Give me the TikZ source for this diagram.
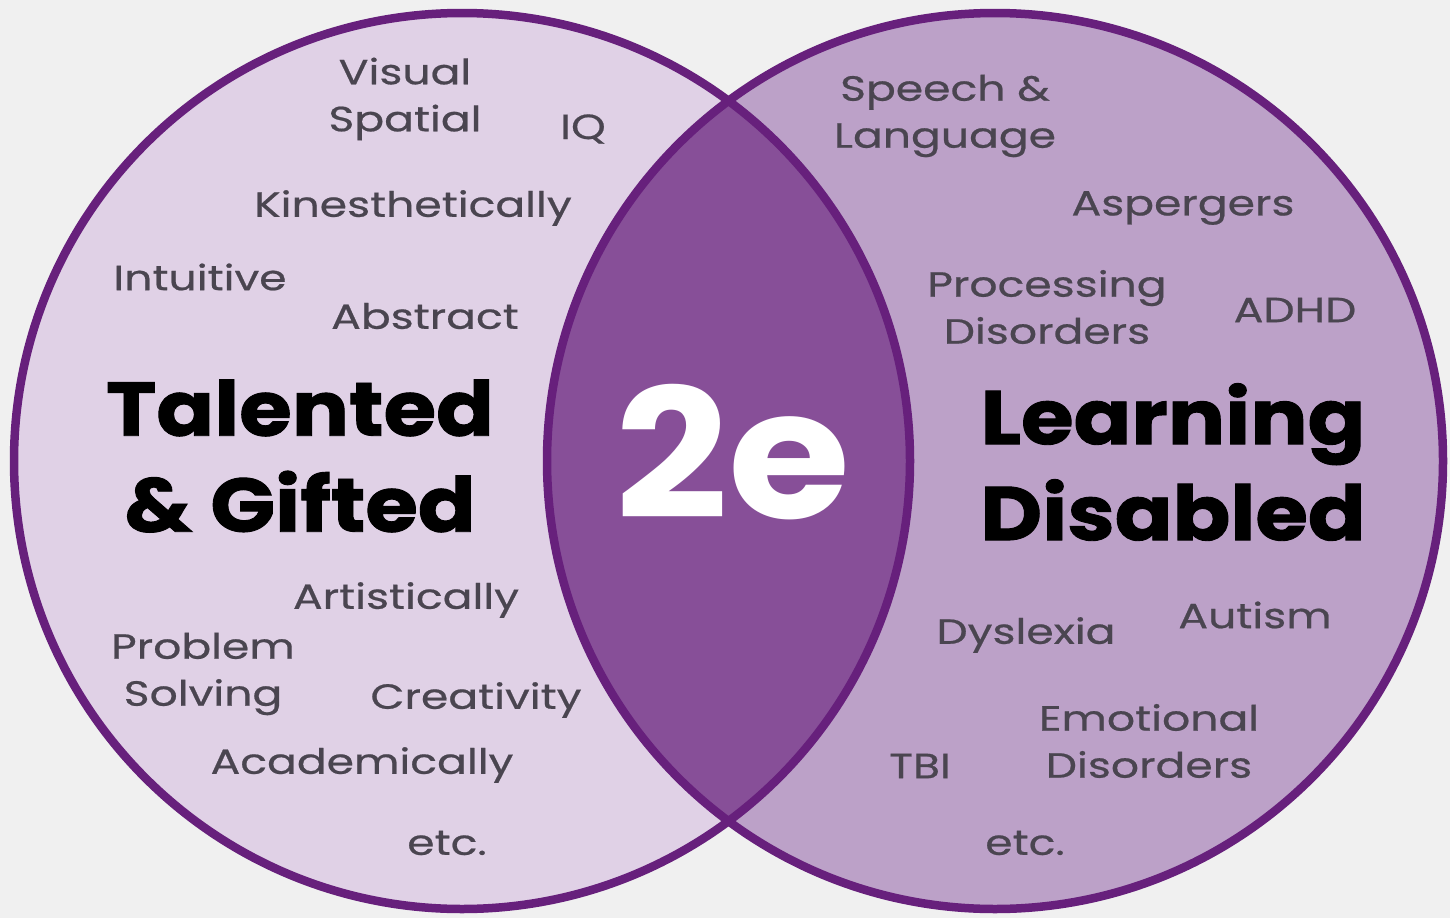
\documentclass[tikz,border=0pt]{standalone}
\usepackage{fontspec}
\setmainfont{Poppins}
\newfontfamily\itemfont[FakeStretch=1.26, FakeBold=0.6]{Poppins}
\newfontfamily\titlefont[FakeStretch=1.12, FakeBold=1.2]{Poppins}
\newfontfamily\lensfont[FakeStretch=1.1]{Poppins}
\definecolor{bgcol}{HTML}{F0F0F0}
\definecolor{leftfill}{HTML}{E0D1E6}
\definecolor{rightfill}{HTML}{BCA1C8}
\definecolor{lensfill}{HTML}{874F98}
\definecolor{ringcol}{HTML}{67207C}
\definecolor{itemcol}{HTML}{4A4550}
\tikzset{
  item/.style={text=itemcol, align=center, inner sep=0pt,
    font=\itemfont\fontsize{35}{47}\selectfont},
  title/.style={text=black, align=center, inner sep=0pt,
    font=\titlefont\fontsize{76}{96}\selectfont\bfseries},
  ring/.style={draw=ringcol, line width=8.5pt},
}
\begin{document}
\begin{tikzpicture}[x=1pt,y=-1pt]
  % canvas
  \fill[bgcol] (0,0) rectangle (1450,918);
  \useasboundingbox (0,0) rectangle (1450,918);

  % the two sets and their overlap
  \coordinate (cl) at (462,461);
  \coordinate (cr) at (995,461);
  \fill[leftfill] (cl) circle (448);
  \fill[rightfill] (cr) circle (448);
  \begin{scope}
    \clip (cl) circle (448);
    \fill[lensfill] (cr) circle (448);
  \end{scope}
  \draw[ring] (cl) circle (448);
  \draw[ring] (cr) circle (448);

  % overlap label
  \node[text=white, inner sep=0pt, font=\lensfont\fontsize{180}{180}\selectfont\bfseries]
    (twoe) at (733,452) {2e};

  % left set
  \node[title] (tg) at (300,456) {Talented\\\& Gifted};
  \node[item] (vs) at (405,99) {Visual\\Spatial};
  \node[item] (iq) at (583,129) {IQ};
  \node[item] (kin) at (413,208) {Kinesthetically};
  \node[item] (intu) at (200,277) {Intuitive};
  \node[item] (abs) at (425,316) {Abstract};
  \node[item] (art) at (406,600) {Artistically};
  \node[item] (ps) at (203,674) {Problem\\Solving};
  \node[item] (cre) at (476,700) {Creativity};
  \node[item] (aca) at (362,765) {Academically};
  \node[item] (etcl) at (447,843) {etc.};

  % right set
  \node[title] (ld) at (1173,462) {Learning\\Disabled};
  \node[item] (sl) at (945,116) {Speech \&\\Language};
  \node[item] (asp) at (1183,208) {Aspergers};
  \node[item] (pd) at (1047,307) {Processing\\Disorders};
  \node[item] (adhd) at (1295,310) {ADHD};
  \node[item] (dys) at (1026,635) {Dyslexia};
  \node[item] (aut) at (1255,615) {Autism};
  \node[item] (emo) at (1149,741) {Emotional\\Disorders};
  \node[item] (tbi) at (920,766) {TBI};
  \node[item] (etcr) at (1025,843) {etc.};
\end{tikzpicture}
\end{document}
